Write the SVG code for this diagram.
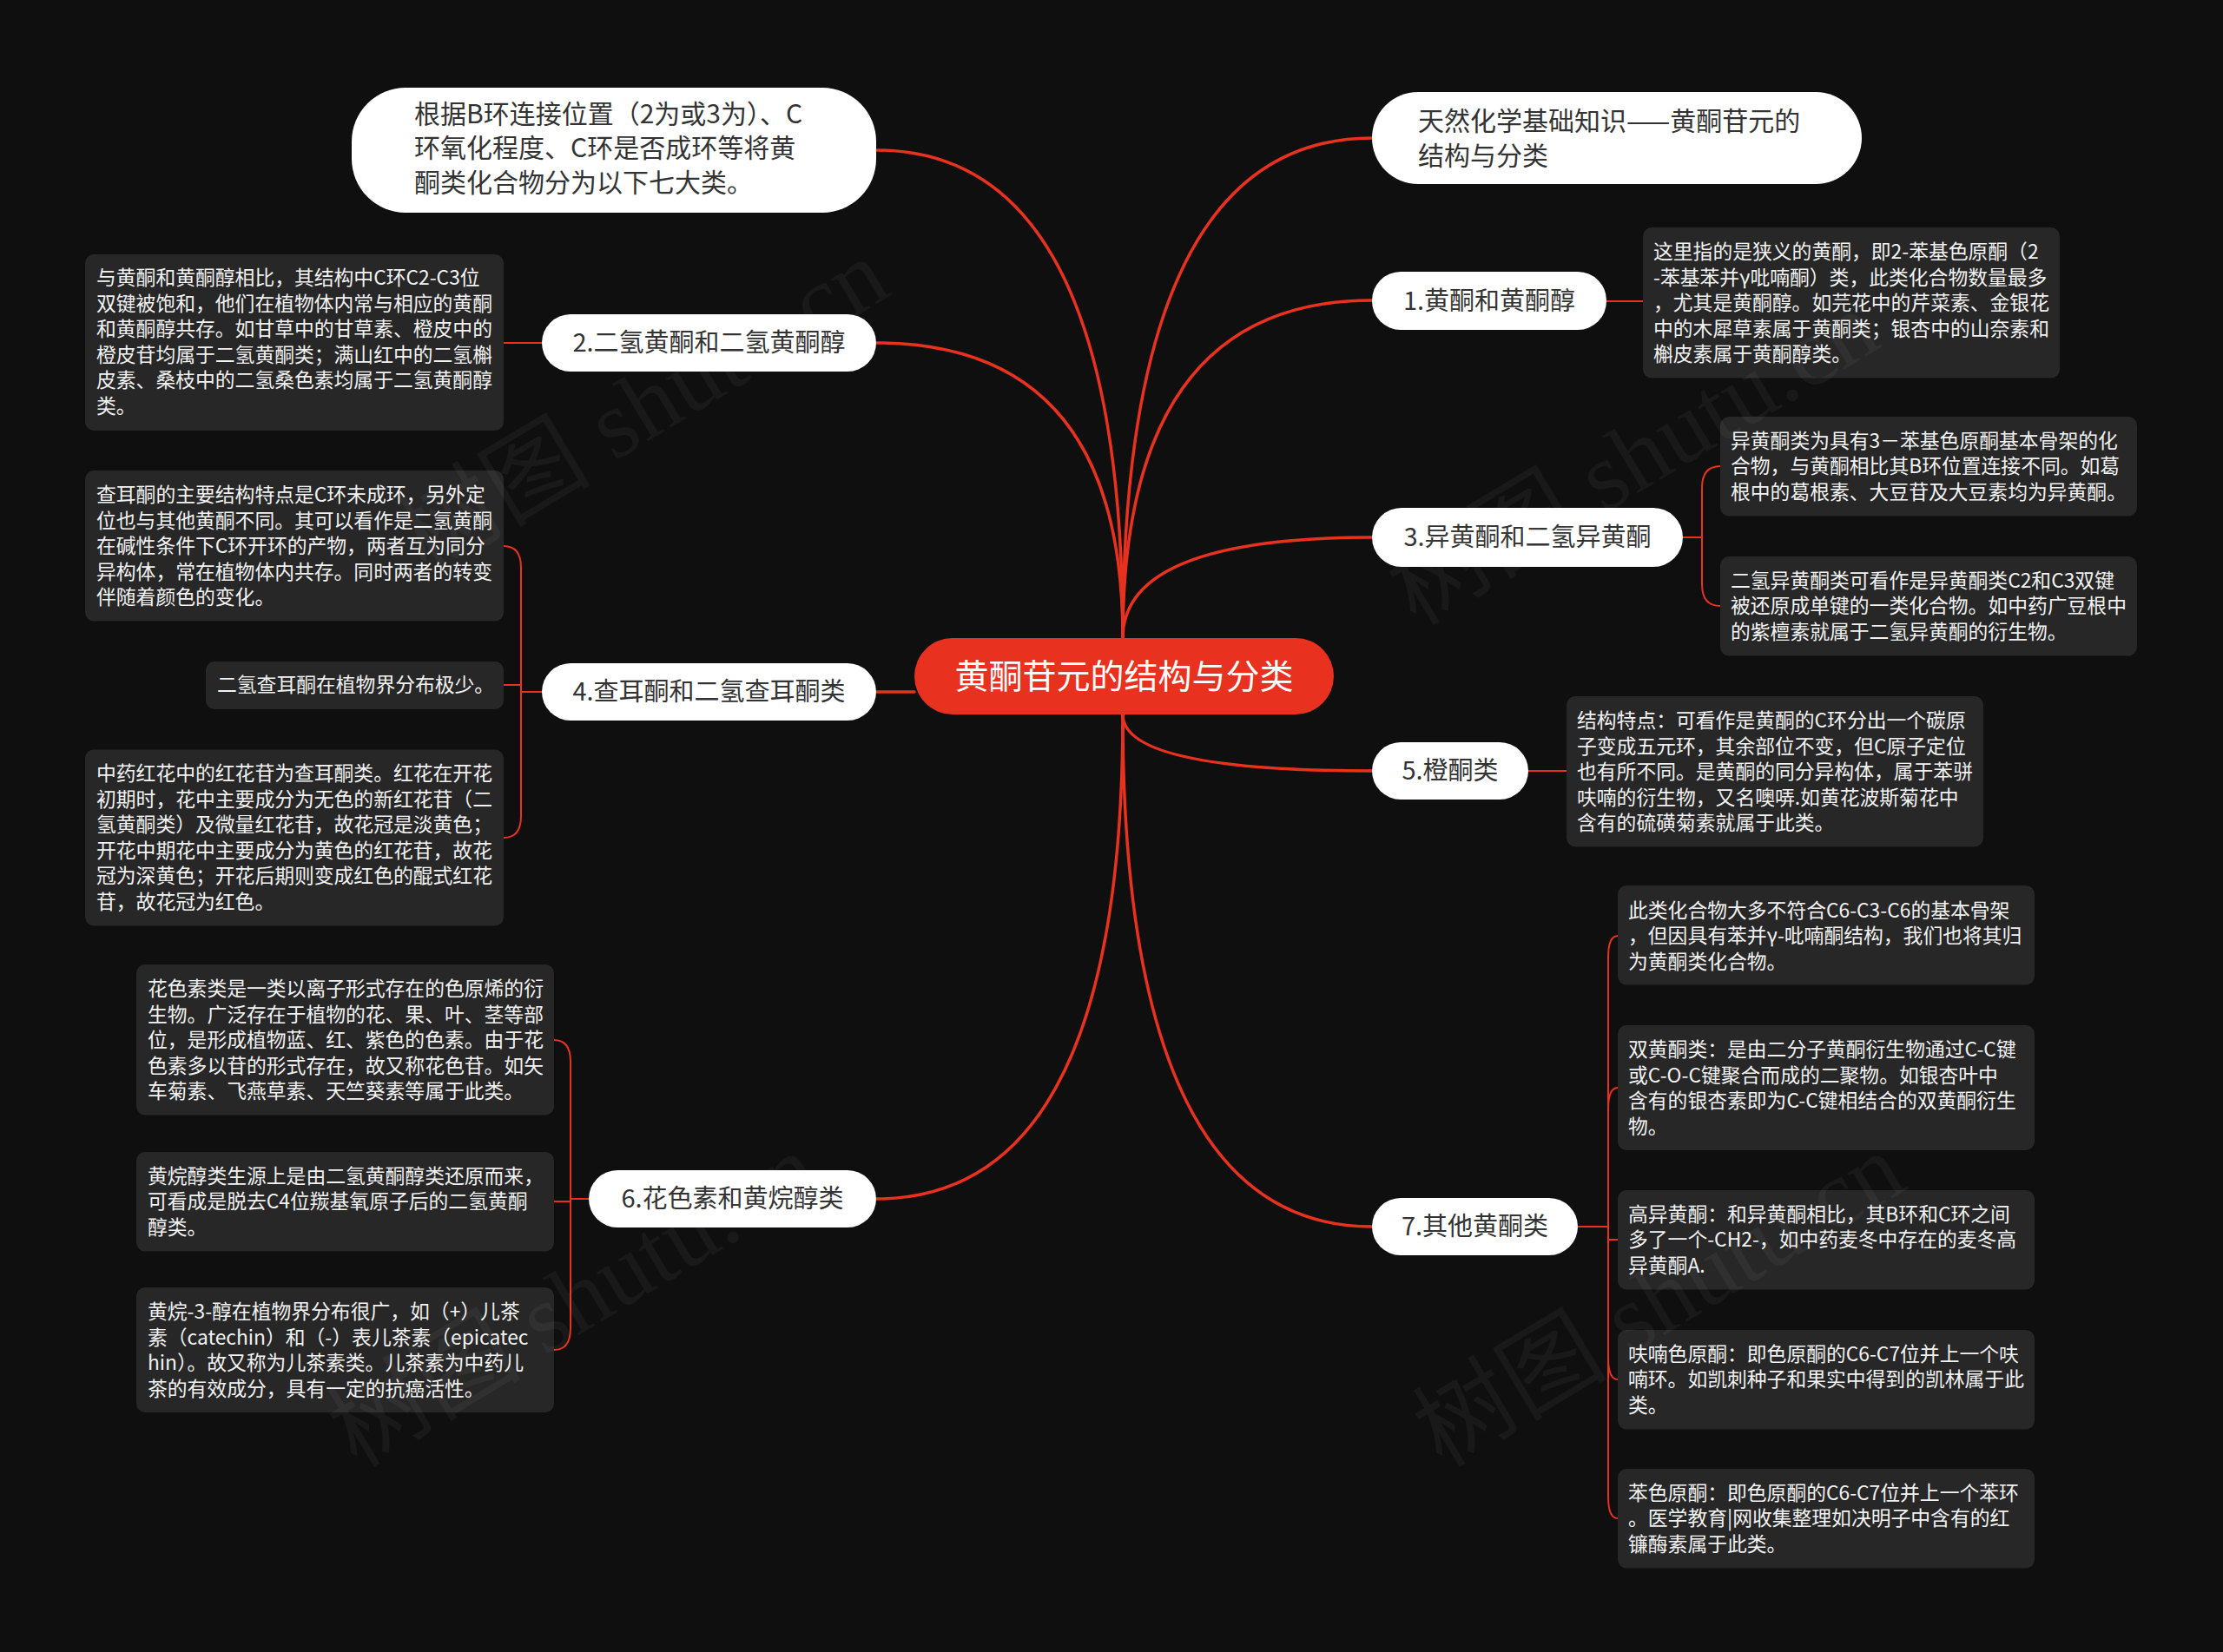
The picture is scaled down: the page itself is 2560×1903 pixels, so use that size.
<svg xmlns="http://www.w3.org/2000/svg" width="2560" height="1903" viewBox="0 0 2560 1903">
<style>
.dt{font-family:"Noto Sans CJK SC","Noto Sans",sans-serif;font-size:22.8px;fill:#f2f2f2}
.box{fill:#272727}
.pill{fill:#ffffff}
.l1{font-family:"Noto Sans CJK SC","Noto Sans",sans-serif;font-size:29px;fill:#333333;text-anchor:middle}
.top{font-family:"Noto Sans CJK SC","Noto Sans",sans-serif;font-size:30px;fill:#333333}
.main{fill:none;stroke:#e8311f;stroke-width:3.5;stroke-linecap:round}
.sub{fill:none;stroke:#e8311f;stroke-width:2;stroke-linecap:round}
.wm{font-family:"Liberation Serif","Noto Sans CJK SC",serif;font-size:112px;fill:#ffffff;fill-opacity:0.045}
</style>
<rect width="2560" height="1903" fill="#0f0f0f"/>

<g id="connectors">
<path class="main" d="M1293 735 Q1293 173 1009 173"/>
<path class="main" d="M1293 735 Q1293 395 1009 395"/>
<path class="main" d="M1053 797 L1009 797"/>
<path class="main" d="M1293 823 Q1293 1381 1009 1381"/>
<path class="main" d="M1293 735 Q1293 159 1580 159"/>
<path class="main" d="M1293 735 Q1293 346 1580 346"/>
<path class="main" d="M1293 735 Q1293 619 1580 619"/>
<path class="main" d="M1293 823 Q1293 888 1580 888"/>
<path class="main" d="M1293 823 Q1293 1413 1580 1413"/>
<path class="sub" d="M1850 347 H1892"/>
<path class="sub" d="M624 395 H580"/>
<path class="sub" d="M1760 888 H1804"/>
<path class="sub" d="M624 797 H600 V654 Q600 629 580 629"/>
<path class="sub" d="M624 797 H600 V789 H580"/>
<path class="sub" d="M624 797 H600 V940 Q600 965 580 965"/>
<path class="sub" d="M678 1381 H657 V1223 Q657 1198 638 1198"/>
<path class="sub" d="M678 1381 H657 V1384 H638"/>
<path class="sub" d="M678 1381 H657 V1530 Q657 1555 638 1555"/>
<path class="sub" d="M1938 619 H1960 V562 Q1960 537 1981 537"/>
<path class="sub" d="M1938 619 H1960 V673 Q1960 698 1981 698"/>
<path class="sub" d="M1817 1413 H1852 V1103 Q1852 1078 1863 1078"/>
<path class="sub" d="M1817 1413 H1852 V1278 Q1852 1253 1863 1253"/>
<path class="sub" d="M1817 1413 H1852 V1428 H1863"/>
<path class="sub" d="M1817 1413 H1852 V1564 Q1852 1589 1863 1589"/>
<path class="sub" d="M1817 1413 H1852 V1724 Q1852 1749 1863 1749"/>
</g>

<g id="center">
<rect x="1053" y="735" width="483" height="88" rx="44" fill="#e8311f"/>
<text x="1294.5" y="793" font-family="Noto Sans CJK SC, sans-serif" font-size="39" fill="#ffffff" text-anchor="middle">黄酮苷元的结构与分类</text>
</g>

<g id="intro">
<rect class="pill" x="405" y="101" width="604" height="144" rx="62"/>
<text class="top"><tspan x="477" y="142">根据B环连接位置（2为或3为）、C</tspan><tspan x="477" y="181">环氧化程度、C环是否成环等将黄</tspan><tspan x="477" y="221">酮类化合物分为以下七大类。</tspan></text>
</g>

<g id="title-note">
<rect class="pill" x="1580" y="106" width="564" height="106" rx="53"/>
<text class="top"><tspan x="1633" y="150">天然化学基础知识——黄酮苷元的</tspan><tspan x="1633" y="190">结构与分类</tspan></text>
</g>

<g id="n1">
<rect class="pill" x="1580" y="313" width="270" height="67" rx="33"/>
<text class="l1" x="1715" y="357">1.黄酮和黄酮醇</text>
</g>
<g id="n2">
<rect class="pill" x="624" y="362" width="385" height="66" rx="33"/>
<text class="l1" x="816.5" y="405">2.二氢黄酮和二氢黄酮醇</text>
</g>
<g id="n3">
<rect class="pill" x="1580" y="585" width="358" height="68" rx="34"/>
<text class="l1" x="1759" y="629">3.异黄酮和二氢异黄酮</text>
</g>
<g id="n4">
<rect class="pill" x="624" y="764" width="385" height="66" rx="33"/>
<text class="l1" x="816.5" y="807">4.查耳酮和二氢查耳酮类</text>
</g>
<g id="n5">
<rect class="pill" x="1580" y="855" width="180" height="66" rx="33"/>
<text class="l1" x="1670" y="898">5.橙酮类</text>
</g>
<g id="n6">
<rect class="pill" x="678" y="1348" width="331" height="66" rx="33"/>
<text class="l1" x="843.5" y="1391">6.花色素和黄烷醇类</text>
</g>
<g id="n7">
<rect class="pill" x="1580" y="1380" width="237" height="66" rx="33"/>
<text class="l1" x="1698.5" y="1423">7.其他黄酮类</text>
</g>

<g id="d2">
<rect class="box" x="98" y="293" width="482" height="203" rx="10"/>
<text class="dt"><tspan x="111" y="328">与黄酮和黄酮醇相比，其结构中C环C2-C3位</tspan><tspan x="111" dy="29.5">双键被饱和，他们在植物体内常与相应的黄酮</tspan><tspan x="111" dy="29.5">和黄酮醇共存。如甘草中的甘草素、橙皮中的</tspan><tspan x="111" dy="29.5">橙皮苷均属于二氢黄酮类；满山红中的二氢槲</tspan><tspan x="111" dy="29.5">皮素、桑枝中的二氢桑色素均属于二氢黄酮醇</tspan><tspan x="111" dy="29.5">类。</tspan></text>
</g>

<g id="d4a">
<rect class="box" x="98" y="542" width="482" height="173.5" rx="10"/>
<text class="dt"><tspan x="111" y="578">查耳酮的主要结构特点是C环未成环，另外定</tspan><tspan x="111" dy="29.5">位也与其他黄酮不同。其可以看作是二氢黄酮</tspan><tspan x="111" dy="29.5">在碱性条件下C环开环的产物，两者互为同分</tspan><tspan x="111" dy="29.5">异构体，常在植物体内共存。同时两者的转变</tspan><tspan x="111" dy="29.5">伴随着颜色的变化。</tspan></text>
</g>
<g id="d4b">
<rect class="box" x="237" y="762" width="343" height="55" rx="10"/>
<text class="dt" x="250" y="797">二氢查耳酮在植物界分布极少。</text>
</g>
<g id="d4c">
<rect class="box" x="98" y="863.5" width="482" height="203" rx="10"/>
<text class="dt"><tspan x="111" y="899">中药红花中的红花苷为查耳酮类。红花在开花</tspan><tspan x="111" dy="29.5">初期时，花中主要成分为无色的新红花苷（二</tspan><tspan x="111" dy="29.5">氢黄酮类）及微量红花苷，故花冠是淡黄色；</tspan><tspan x="111" dy="29.5">开花中期花中主要成分为黄色的红花苷，故花</tspan><tspan x="111" dy="29.5">冠为深黄色；开花后期则变成红色的醌式红花</tspan><tspan x="111" dy="29.5">苷，故花冠为红色。</tspan></text>
</g>

<g id="d6a">
<rect class="box" x="157" y="1111" width="481" height="173.5" rx="10"/>
<text class="dt"><tspan x="170" y="1147">花色素类是一类以离子形式存在的色原烯的衍</tspan><tspan x="170" dy="29.5">生物。广泛存在于植物的花、果、叶、茎等部</tspan><tspan x="170" dy="29.5">位，是形成植物蓝、红、紫色的色素。由于花</tspan><tspan x="170" dy="29.5">色素多以苷的形式存在，故又称花色苷。如矢</tspan><tspan x="170" dy="29.5">车菊素、飞燕草素、天竺葵素等属于此类。</tspan></text>
</g>
<g id="d6b">
<rect class="box" x="157" y="1327" width="481" height="114.5" rx="10"/>
<text class="dt"><tspan x="170" y="1362.5">黄烷醇类生源上是由二氢黄酮醇类还原而来，</tspan><tspan x="170" dy="29.5">可看成是脱去C4位羰基氧原子后的二氢黄酮</tspan><tspan x="170" dy="29.5">醇类。</tspan></text>
</g>
<g id="d6c">
<rect class="box" x="157" y="1483" width="481" height="144" rx="10"/>
<text class="dt"><tspan x="170" y="1519">黄烷-3-醇在植物界分布很广，如（+）儿茶</tspan><tspan x="170" dy="29.5">素（catechin）和（-）表儿茶素（epicatec</tspan><tspan x="170" dy="29.5">hin）。故又称为儿茶素类。儿茶素为中药儿</tspan><tspan x="170" dy="29.5">茶的有效成分，具有一定的抗癌活性。</tspan></text>
</g>

<g id="d1">
<rect class="box" x="1892" y="262" width="480" height="173.5" rx="10"/>
<text class="dt"><tspan x="1904" y="298">这里指的是狭义的黄酮，即2-苯基色原酮（2</tspan><tspan x="1904" dy="29.5">-苯基苯并γ吡喃酮）类，此类化合物数量最多</tspan><tspan x="1904" dy="29.5">，尤其是黄酮醇。如芫花中的芹菜素、金银花</tspan><tspan x="1904" dy="29.5">中的木犀草素属于黄酮类；银杏中的山奈素和</tspan><tspan x="1904" dy="29.5">槲皮素属于黄酮醇类。</tspan></text>
</g>

<g id="d3a">
<rect class="box" x="1981" y="480" width="480" height="114.5" rx="10"/>
<text class="dt"><tspan x="1993" y="515.5">异黄酮类为具有3－苯基色原酮基本骨架的化</tspan><tspan x="1993" dy="29.5">合物，与黄酮相比其B环位置连接不同。如葛</tspan><tspan x="1993" dy="29.5">根中的葛根素、大豆苷及大豆素均为异黄酮。</tspan></text>
</g>
<g id="d3b">
<rect class="box" x="1981" y="641" width="480" height="114.5" rx="10"/>
<text class="dt"><tspan x="1993" y="676.5">二氢异黄酮类可看作是异黄酮类C2和C3双键</tspan><tspan x="1993" dy="29.5">被还原成单键的一类化合物。如中药广豆根中</tspan><tspan x="1993" dy="29.5">的紫檀素就属于二氢异黄酮的衍生物。</tspan></text>
</g>

<g id="d5">
<rect class="box" x="1804" y="802" width="480" height="173.5" rx="10"/>
<text class="dt"><tspan x="1816" y="838">结构特点：可看作是黄酮的C环分出一个碳原</tspan><tspan x="1816" dy="29.5">子变成五元环，其余部位不变，但C原子定位</tspan><tspan x="1816" dy="29.5">也有所不同。是黄酮的同分异构体，属于苯骈</tspan><tspan x="1816" dy="29.5">呋喃的衍生物，又名噢哢.如黄花波斯菊花中</tspan><tspan x="1816" dy="29.5">含有的硫磺菊素就属于此类。</tspan></text>
</g>

<g id="d7a">
<rect class="box" x="1863" y="1020" width="480" height="114.5" rx="10"/>
<text class="dt"><tspan x="1875" y="1056.5">此类化合物大多不符合C6-C3-C6的基本骨架</tspan><tspan x="1875" dy="29.5">，但因具有苯并γ-吡喃酮结构，我们也将其归</tspan><tspan x="1875" dy="29.5">为黄酮类化合物。</tspan></text>
</g>
<g id="d7b">
<rect class="box" x="1863" y="1181" width="480" height="144" rx="10"/>
<text class="dt"><tspan x="1875" y="1217">双黄酮类：是由二分子黄酮衍生物通过C-C键</tspan><tspan x="1875" dy="29.5">或C-O-C键聚合而成的二聚物。如银杏叶中</tspan><tspan x="1875" dy="29.5">含有的银杏素即为C-C键相结合的双黄酮衍生</tspan><tspan x="1875" dy="29.5">物。</tspan></text>
</g>
<g id="d7c">
<rect class="box" x="1863" y="1371" width="480" height="114.5" rx="10"/>
<text class="dt"><tspan x="1875" y="1406.5">高异黄酮：和异黄酮相比，其B环和C环之间</tspan><tspan x="1875" dy="29.5">多了一个-CH2-，如中药麦冬中存在的麦冬高</tspan><tspan x="1875" dy="29.5">异黄酮A.</tspan></text>
</g>
<g id="d7d">
<rect class="box" x="1863" y="1532" width="480" height="114.5" rx="10"/>
<text class="dt"><tspan x="1875" y="1567.5">呋喃色原酮：即色原酮的C6-C7位并上一个呋</tspan><tspan x="1875" dy="29.5">喃环。如凯刺种子和果实中得到的凯林属于此</tspan><tspan x="1875" dy="29.5">类。</tspan></text>
</g>
<g id="d7e">
<rect class="box" x="1863" y="1692" width="480" height="114.5" rx="10"/>
<text class="dt"><tspan x="1875" y="1727.5">苯色原酮：即色原酮的C6-C7位并上一个苯环</tspan><tspan x="1875" dy="29.5">。医学教育|网收集整理如决明子中含有的红</tspan><tspan x="1875" dy="29.5">镰酶素属于此类。</tspan></text>
</g>

<g id="watermarks">
<text class="wm" text-anchor="middle" transform="translate(760 500) rotate(-31)">树图 shutu.cn</text>
<text class="wm" text-anchor="middle" transform="translate(1900 560) rotate(-31)">树图 shutu.cn</text>
<text class="wm" text-anchor="middle" transform="translate(680 1530) rotate(-31)">树图 shutu.cn</text>
<text class="wm" text-anchor="middle" transform="translate(1930 1530) rotate(-31)">树图 shutu.cn</text>
</g>
</svg>
